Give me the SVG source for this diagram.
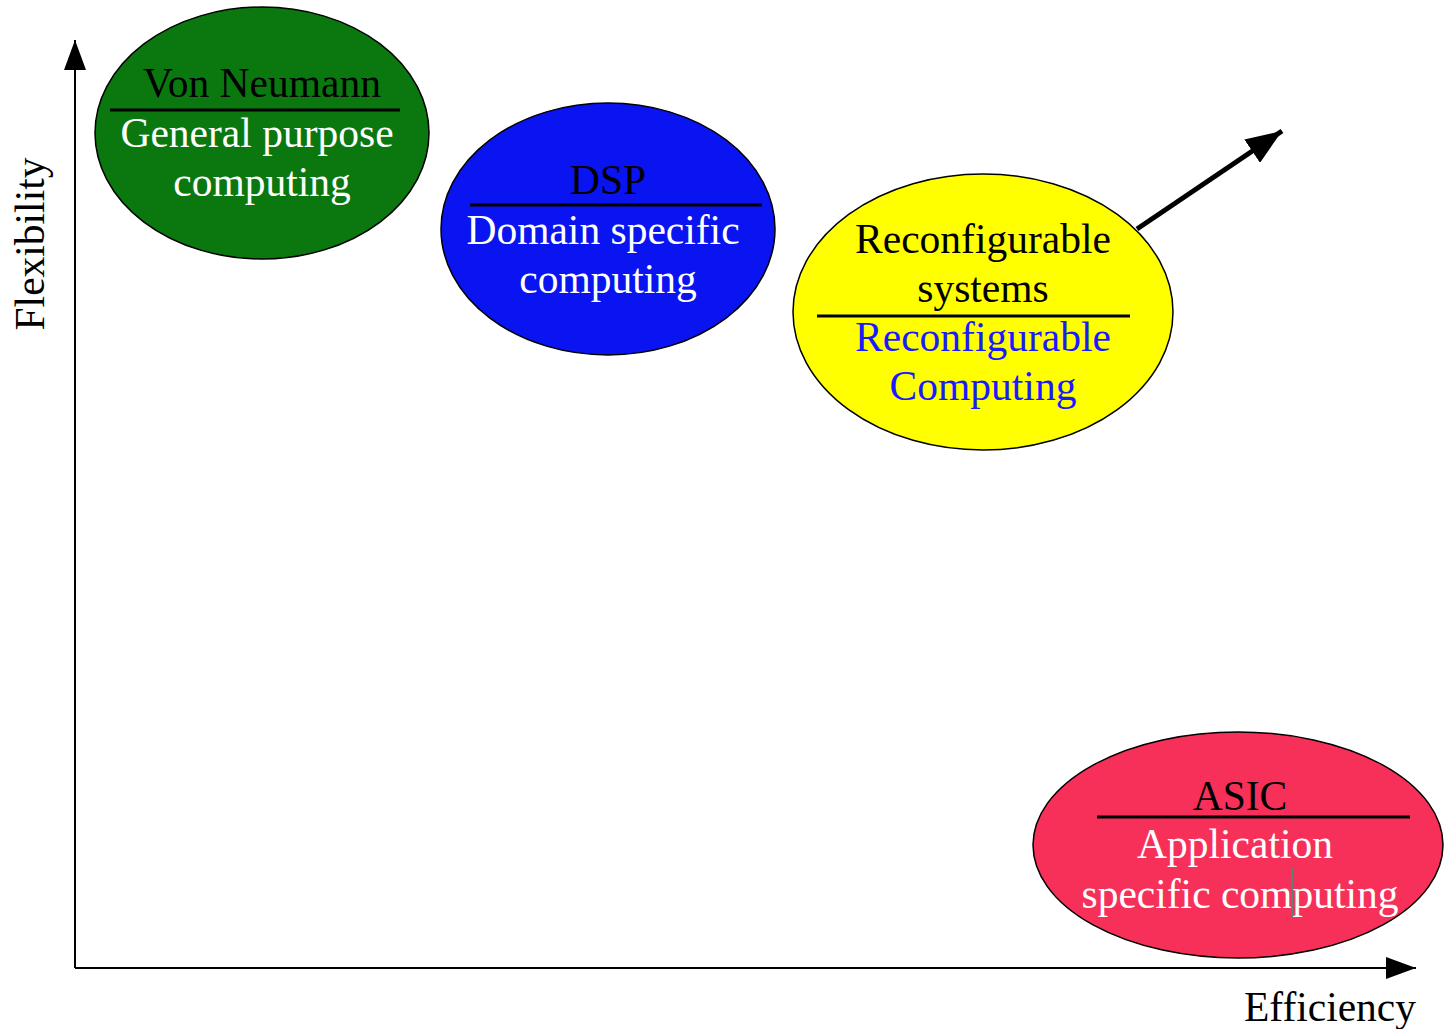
<svg xmlns="http://www.w3.org/2000/svg" width="1444" height="1029" viewBox="0 0 1444 1029">
  <style>
    text { font-family: "Liberation Serif", "Times New Roman", serif; font-size: 41.5px; text-anchor: middle; }
    .wht { fill: #ffffff; }
    .blk { fill: #000000; }
    .blu { fill: #1a1aff; }
    .node { stroke: #000000; stroke-width: 1.5; }
    .rule { stroke: #000000; stroke-width: 3; }
    .axis { stroke: #000000; stroke-width: 2; fill: none; }
  </style>
  <defs>
    <marker id="axisHead" viewBox="0 0 30 22" refX="30" refY="11" markerWidth="30" markerHeight="22" markerUnits="userSpaceOnUse" orient="auto">
      <path d="M0,0 L30,11 L0,22 Z" fill="#000000"/>
    </marker>
    <marker id="trendHead" viewBox="0 0 36 28" refX="36" refY="14" markerWidth="36" markerHeight="28" markerUnits="userSpaceOnUse" orient="auto">
      <path d="M0,0 L36,14 L0,28 Z" fill="#000000"/>
    </marker>
  </defs>

  <rect width="1444" height="1029" fill="#ffffff"/>

  <!-- axes and trend arrow -->
  <g id="connectors">
    <line class="axis" x1="75" y1="968" x2="75" y2="40" marker-end="url(#axisHead)"/>
    <line class="axis" x1="75" y1="968" x2="1416" y2="968" marker-end="url(#axisHead)"/>
    <line x1="1137" y1="229" x2="1282" y2="131" stroke="#000000" stroke-width="5" marker-end="url(#trendHead)"/>
  </g>

  <!-- axis labels -->
  <text class="blk" x="30" y="244" transform="rotate(-90 30 244)" dy="14">Flexibility</text>
  <text class="blk" x="1330" y="1021">Efficiency</text>

  <g id="von-neumann">
    <ellipse class="node" cx="262" cy="133" rx="167" ry="126" fill="#0b780f"/>
    <text class="blk" x="262" y="97">Von Neumann</text>
    <line class="rule" x1="110" y1="110" x2="400" y2="110"/>
    <text class="wht" x="257" y="147">General purpose</text>
    <text class="wht" x="262" y="196">computing</text>
  </g>

  <g id="dsp">
    <ellipse class="node" cx="608" cy="229" rx="167" ry="126" fill="#0a14f0"/>
    <text class="blk" x="608" y="194">DSP</text>
    <line class="rule" x1="470" y1="205" x2="762" y2="205"/>
    <text class="wht" x="603" y="244">Domain specific</text>
    <text class="wht" x="608" y="293">computing</text>
  </g>

  <g id="reconfigurable">
    <ellipse class="node" cx="983" cy="312" rx="190" ry="138" fill="#ffff00"/>
    <text class="blk" x="983" y="253">Reconfigurable</text>
    <text class="blk" x="983" y="302">systems</text>
    <line class="rule" x1="817" y1="316" x2="1130" y2="316"/>
    <text class="blu" x="983" y="351">Reconfigurable</text>
    <text class="blu" x="983" y="400">Computing</text>
  </g>

  <g id="asic">
    <ellipse class="node" cx="1238" cy="845" rx="205" ry="113" fill="#f7305a"/>
    <text class="blk" x="1240" y="810">ASIC</text>
    <line class="rule" x1="1097" y1="817" x2="1410" y2="817"/>
    <text class="wht" x="1235" y="858">Application</text>
    <text class="wht" x="1240" y="908">specific computing</text>
    <line x1="1292" y1="868" x2="1292" y2="918" stroke="#2a9a80" stroke-width="1.5"/>
  </g>
</svg>
